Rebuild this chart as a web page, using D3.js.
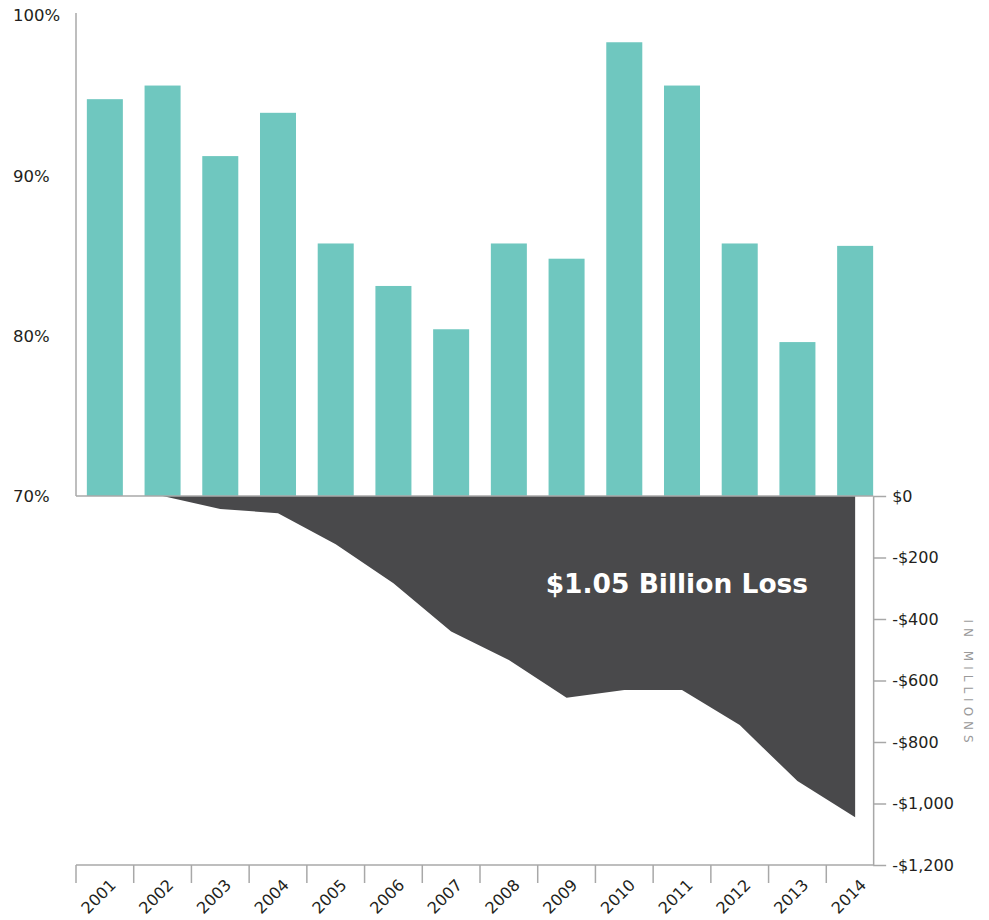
<!DOCTYPE html>
<html>
<head>
<meta charset="utf-8">
<script src="https://cdn.jsdelivr.net/npm/d3@7"></script>
<style>
  body { margin: 0; background: #fff; }
  svg text { font-family: "DejaVu Sans", sans-serif; fill: #231f20; }
</style>
</head>
<body>
<div class="chart"></div>
<script>
// bar series: share per year (%)
const years = ['2001', '2002', '2003', '2004', '2005', '2006', '2007', '2008', '2009', '2010', '2011', '2012', '2013', '2014'];
const pctValues = [94.75, 95.6, 91.2, 93.9, 85.75, 83.1, 80.4, 85.75, 84.8, 98.3, 95.6, 85.75, 79.6, 85.6];
const pctTicks = [70, 80, 90, 100];

// area series: cumulative loss, millions
const lossYears = ['2002', '2003', '2004', '2005', '2006', '2007', '2008', '2009', '2010', '2011', '2012', '2013', '2014'];
const lossValues = [0, -42, -56, -157, -284, -441, -533, -656, -631, -631, -745, -927, -1045];
const lossTicks = [0, -200, -400, -600, -800, -1000, -1200];

const annotation = '$1.05 Billion Loss';
const unitLabel = 'IN MILLIONS';

const width = 989, height = 920;
const mLeft = 76, mTop = 15, base = 496, mBottom = 865;
const axisColor = '#a8a8a8';

const svg = d3.select('.chart').append('svg')
  .attr('width', width).attr('height', height);

const x = d3.scaleBand()
  .domain(years)
  .range([mLeft, 884])
  .paddingInner(0.376)
  .paddingOuter(0.188);

const bw = x.bandwidth();
const step = x.step();
const rightX = x(years[years.length - 1]) + bw; // right axis sits on last bar edge

const y = d3.scaleLinear().domain([70, 100]).range([base, mTop]);
const yLoss = d3.scaleLinear().domain([0, -1200]).range([base, mBottom]);

// bars
svg.append('g')
  .selectAll('rect')
  .data(years)
  .join('rect')
  .attr('x', d => x(d))
  .attr('y', (d, i) => y(pctValues[i]))
  .attr('width', bw)
  .attr('height', (d, i) => base - y(pctValues[i]))
  .attr('fill', '#6fc7bf');

// loss area
const lossData = lossYears.map((d, i) => ({ year: d, value: lossValues[i] }));
const area = d3.area()
  .x(d => x(d.year) + bw / 2)
  .y0(yLoss(0))
  .y1(d => yLoss(d.value));

svg.append('path')
  .datum(lossData)
  .attr('d', area)
  .attr('fill', '#49494b');

svg.append('text')
  .attr('x', x('2014') + bw / 2 - 47)
  .attr('y', 593)
  .attr('text-anchor', 'end')
  .style('font-size', '26.5px')
  .style('font-weight', 'bold')
  .style('fill', '#fff')
  .text(annotation);

// left axis (percent)
const yAxis = d3.axisLeft(y).tickValues(pctTicks).tickSize(0).tickFormat(d => d + '%');
const gy = svg.append('g')
  .attr('transform', 'translate(' + mLeft + ',0)')
  .call(yAxis);
gy.select('.domain').attr('stroke', axisColor).attr('stroke-width', 1.5)
  .attr('d', 'M0,' + (mTop - 2) + 'V' + base);
gy.selectAll('.tick text')
  .attr('x', -63)
  .attr('dy', '0.35em')
  .attr('text-anchor', 'start')
  .style('font-size', '16.5px')
  .style('fill', '#231f20');

// baseline under bars
svg.append('line')
  .attr('x1', mLeft).attr('x2', rightX)
  .attr('y1', base).attr('y2', base)
  .attr('stroke', axisColor).attr('stroke-width', 1.5);

// right axis (loss)
const yAxisR = d3.axisRight(yLoss)
  .tickValues(lossTicks)
  .tickSize(13)
  .tickSizeOuter(0)
  .tickPadding(6)
  .tickFormat(d => (d < 0 ? '-' : '') + '$' + d3.format(',')(Math.abs(d)));
const gr = svg.append('g')
  .attr('transform', 'translate(' + rightX + ',0)')
  .call(yAxisR);
gr.select('.domain').attr('stroke', axisColor).attr('stroke-width', 1.5);
gr.selectAll('.tick line').attr('stroke', axisColor).attr('stroke-width', 1.5);
gr.selectAll('.tick text')
  .style('font-size', '16px')
  .style('fill', '#231f20');

svg.append('text')
  .attr('transform', 'translate(' + (rightX + 91) + ',' + yLoss(-610) + ') rotate(90)')
  .attr('text-anchor', 'middle')
  .style('font-size', '12px')
  .style('letter-spacing', '5px')
  .style('fill', '#9a9a9a')
  .text(unitLabel);

// bottom year axis
const gx = svg.append('g');
gx.append('line')
  .attr('x1', mLeft).attr('x2', rightX)
  .attr('y1', mBottom).attr('y2', mBottom)
  .attr('stroke', axisColor).attr('stroke-width', 1.5);
gx.selectAll('.yr-tick')
  .data(years)
  .join('line')
  .attr('class', 'yr-tick')
  .attr('x1', (d, i) => i === 0 ? mLeft : x(d) - (step - bw) / 2)
  .attr('x2', (d, i) => i === 0 ? mLeft : x(d) - (step - bw) / 2)
  .attr('y1', mBottom).attr('y2', mBottom + 18)
  .attr('stroke', axisColor).attr('stroke-width', 1.5);
gx.selectAll('.yr-label')
  .data(years)
  .join('text')
  .attr('class', 'yr-label')
  .attr('transform', d => 'translate(' + (x(d) + bw / 2 + 12) + ',' + (mBottom + 21) + ') rotate(-45)')
  .attr('text-anchor', 'end')
  .style('font-size', '16px')
  .text(d => d);
</script>
</body>
</html>
